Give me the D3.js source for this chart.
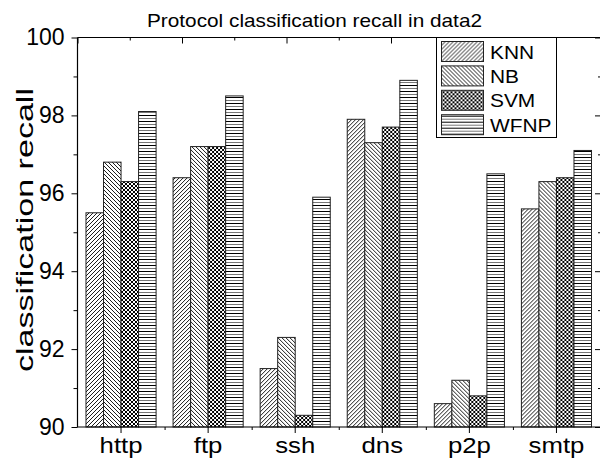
<!DOCTYPE html>
<html><head><meta charset="utf-8">
<script src="https://cdn.jsdelivr.net/npm/d3@7"></script>
<style>body{margin:0;background:#fff}svg{display:block}text{font-family:"Liberation Sans",Arial,sans-serif;fill:#000}</style>
</head><body><svg id="c" width="600" height="463"></svg>
<script>
const categories = ["http","ftp","ssh","dns","p2p","smtp"];
const seriesNames = ["KNN","NB","SVM","WFNP"];
const knn  = [95.5, 96.4, 91.5, 97.9, 90.6, 95.6];
const nb   = [96.8, 97.2, 92.3, 97.3, 91.2, 96.3];
const svm  = [96.3, 97.2, 90.3, 97.7, 90.8, 96.4];
const wfnp = [98.1, 98.5, 95.9, 98.9, 96.5, 97.1];
const yTicks = [90, 92, 94, 96, 98, 100];
const yMinor = [91, 93, 95, 97, 99];
const topTicksMajor = [0, 2, 4, 6, 8, 10];
const topTicksMinor = [1, 3, 5, 7, 9];
const titleText = "Protocol classification recall in data2";
const yLabel = "classification recall";

const series = [knn, nb, svm, wfnp];
const svg = d3.select("#c");
const L = 77.5, R = 600, T = 37.5, B = 427;

// patterns
const defs = svg.append("defs");
function pattern(id, w, h, paths) {
  const p = defs.append("pattern").attr("id", id).attr("patternUnits", "userSpaceOnUse")
    .attr("width", w).attr("height", h);
  p.append("rect").attr("width", w).attr("height", h).attr("fill", "#fff");
  paths.forEach(([d, c, sw]) => p.append("path").attr("d", d).attr("stroke", c).attr("stroke-width", sw).attr("fill", "none"));
}
pattern("p0", 4, 4, [["M-1,1L1,-1M0,4L4,0M3,5L5,3", "#000", 0.9]]);
pattern("p1", 4, 4, [["M-1,3L1,5M0,0L4,4M3,-1L5,1", "#000", 0.9]]);
pattern("p2", 4, 4, [["M-1,1L1,-1M0,4L4,0M3,5L5,3", "#000", 1], ["M-1,3L1,5M0,0L4,4M3,-1L5,1", "#000", 1]]);
pattern("p3", 6, 6, [["M0,1.5H6", "#000", 1], ["M0,4.5H6", "#777", 1]]);

const x = d3.scaleBand().domain(categories).range([L, R]).paddingInner(0.195).paddingOuter(0.0975);
const xi = d3.scaleBand().domain(seriesNames).range([0, x.bandwidth()]);
const y = d3.scaleLinear().domain([90, 100]).range([B, T]);
const xTop = d3.scaleLinear().domain([0, 10]).range([L, R]);

// bars
const rows = categories.map((c, i) => ({cat: c, vals: series.map((s, j) => ({name: seriesNames[j], j, v: s[i]}))}));
const grp = svg.append("g").selectAll("g").data(rows).join("g")
  .attr("transform", d => `translate(${x(d.cat)},0)`);
grp.selectAll("rect").data(d => d.vals).join("rect")
  .attr("x", d => xi(d.name)).attr("width", xi.bandwidth())
  .attr("y", d => y(d.v)).attr("height", d => y(90) - y(d.v))
  .attr("fill", d => `url(#p${d.j})`).attr("stroke", "#222").attr("stroke-width", 1);

function styleAxis(g) { g.select(".domain").remove(); g.selectAll("line").attr("stroke", "#000"); }

// left axis
svg.append("g").attr("transform", `translate(${L},0)`)
  .call(d3.axisLeft(y).tickValues(yTicks).tickSize(6).tickPadding(7).tickFormat(d3.format("d")))
  .call(styleAxis)
  .call(g => g.selectAll("text").attr("font-size", 23).attr("font-family", '"Liberation Sans",Arial,sans-serif').attr("fill", "#000"));
svg.append("g").attr("transform", `translate(${L},0)`)
  .call(d3.axisLeft(y).tickValues(yMinor).tickSize(4).tickFormat(""))
  .call(styleAxis);
// right axis (ticks inward)
svg.append("g").attr("transform", `translate(${R},0)`)
  .call(d3.axisLeft(y).tickValues(yTicks).tickSize(5).tickFormat("")).call(styleAxis);
svg.append("g").attr("transform", `translate(${R},0)`)
  .call(d3.axisLeft(y).tickValues(yMinor).tickSize(2).tickFormat("")).call(styleAxis);
// bottom axis
svg.append("g").attr("transform", `translate(0,${B})`)
  .call(d3.axisBottom(x).tickSize(6).tickFormat("")).call(styleAxis);
const bounds = categories.slice(1).map(c => x(c) - x.paddingInner() * x.step() / 2);
svg.append("g").attr("transform", `translate(0,${B})`)
  .call(d3.axisBottom(d3.scaleIdentity()).tickValues(bounds).tickSize(3).tickFormat("")).call(styleAxis);
// top axis (ticks inward)
svg.append("g").attr("transform", `translate(0,${T})`)
  .call(d3.axisBottom(xTop).tickValues(topTicksMajor).tickSize(6).tickFormat("")).call(styleAxis);
svg.append("g").attr("transform", `translate(0,${T})`)
  .call(d3.axisBottom(xTop).tickValues(topTicksMinor).tickSize(3).tickFormat("")).call(styleAxis);

// frame
svg.append("path").attr("d", `M${L},${T}V${B}H${R + 1}M${L},${T}H${R + 1}`)
  .attr("stroke", "#000").attr("stroke-width", 1.2).attr("fill", "none");

// x labels
svg.append("g").selectAll("text").data(categories).join("text")
  .attr("transform", d => `translate(${x(d) + x.bandwidth() / 2},453) scale(1.12,1)`)
  .attr("text-anchor", "middle").attr("font-size", 23).text(d => d);

// title
svg.append("text").attr("x", 314.5).attr("y", 27)
  .attr("text-anchor", "middle").attr("font-size", 19)
  .attr("textLength", 335).attr("lengthAdjust", "spacingAndGlyphs").text(titleText);
// y label
svg.append("text").attr("transform", "translate(33,230) rotate(-90)")
  .attr("text-anchor", "middle").attr("font-size", 24)
  .attr("textLength", 284).attr("lengthAdjust", "spacingAndGlyphs").text(yLabel);

// legend
const lg = svg.append("g");
lg.append("rect").attr("x", 436.5).attr("y", T).attr("width", 120).attr("height", 100)
  .attr("fill", "#fff").attr("stroke", "#000").attr("stroke-width", 1);
const li = lg.selectAll("g").data(seriesNames).join("g")
  .attr("transform", (d, i) => `translate(441.5,${41.5 + i * 24.4})`);
li.append("rect").attr("width", 42).attr("height", 20)
  .attr("fill", (d, i) => `url(#p${i})`).attr("stroke", "#222");
li.append("text").attr("transform", "translate(48.5,17) scale(1.1,1)").attr("font-size", 19).text(d => d);
</script></body></html>
